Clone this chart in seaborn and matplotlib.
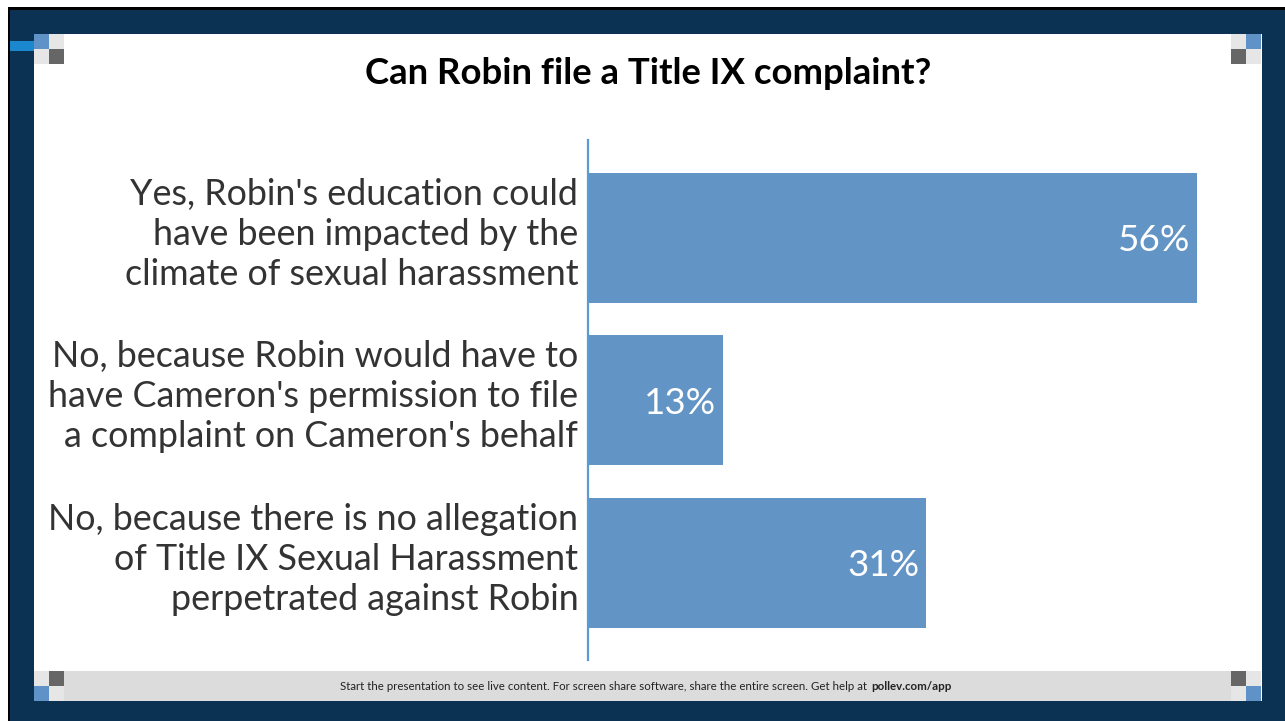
import matplotlib
matplotlib.use('Agg')
import matplotlib.pyplot as plt
import matplotlib.transforms as mtrans
from matplotlib.patches import Rectangle
import seaborn as sns
import pandas as pd

# poll results (bar lengths: 9 / 2 / 5 of 16 votes)
title = 'Can Robin file a Title IX complaint?'
answers = [
    "Yes, Robin's education could\nhave been impacted by the\nclimate of sexual harassment",
    "No, because Robin would have to\nhave Cameron's permission to file\na complaint on Cameron's behalf",
    "No, because there is no allegation\nof Title IX Sexual Harassment\nperpetrated against Robin",
]
shares = [56.25, 12.5, 31.25]
share_labels = ['56%', '13%', '31%']
footer_text = 'Start the presentation to see live content. For screen share software, share the entire screen. Get help at'
footer_link = 'pollev.com/app'

W, H = 1285, 721
NAVY = '#0b3252'
BAR = '#6294c5'
AXIS = '#5b9bd5'
LIGHT = '#e6e6e6'
DARK = '#666666'
SQ_BLUE = '#5f93c7'


def px_rect(fig, x0, y0, x1, y1, color, z=1):
    fig.patches.append(Rectangle((x0 / W, 1 - y1 / H), (x1 - x0) / W, (y1 - y0) / H,
                                 transform=fig.transFigure, facecolor=color,
                                 edgecolor='none', zorder=z))


def main():
    sns.set_theme(style='white')
    plt.rcParams['font.family'] = ['Lato', 'DejaVu Sans']

    fig = plt.figure(figsize=(W / 100, H / 100), dpi=100, facecolor='white')

    # slide frame
    px_rect(fig, 8, 7, W, H, 'black')
    px_rect(fig, 10, 10, W, H, NAVY)
    px_rect(fig, 10, 41, 34, 51, '#1a87cf')
    px_rect(fig, 34, 34, 1262, 701, 'white')
    px_rect(fig, 64, 671, 1231, 701, '#dcdcdc')
    # corner squares
    for (x, y, c) in [(34, 34, SQ_BLUE), (49, 34, LIGHT), (34, 49, LIGHT), (49, 49, DARK),
                      (1231, 34, LIGHT), (1246, 34, SQ_BLUE), (1231, 49, DARK), (1246, 49, LIGHT),
                      (34, 671, LIGHT), (49, 671, DARK), (34, 686, SQ_BLUE), (49, 686, LIGHT),
                      (1231, 671, DARK), (1246, 671, LIGHT), (1231, 686, LIGHT), (1246, 686, SQ_BLUE)]:
        px_rect(fig, x, y, x + 15, y + 15, c, z=2)

    df = pd.DataFrame({'answer': answers, 'share': shares})

    ax = fig.add_axes([588 / W, 1 - 660 / H, (1250 - 588) / W, (660 - 140) / H])
    ax.set_zorder(5)
    ax.patch.set_alpha(0)
    sns.barplot(data=df, x='share', y='answer', color=BAR, saturation=1, width=0.8,
                orient='h', linewidth=0, ax=ax)
    ax.set_xlim(0, 662 / 10.83)
    ax.set_ylim(2.6, -0.603)
    ax.set_xticks([])
    ax.set_xlabel('')
    ax.set_ylabel('')
    for side in ['top', 'right', 'bottom']:
        ax.spines[side].set_visible(False)
    ax.spines['left'].set_color(AXIS)
    ax.spines['left'].set_linewidth(1.6)
    ax.tick_params(axis='y', length=0, pad=7, labelsize=25.8, labelcolor='#333333')
    # answer text sits a little above the bar centre on the slide
    lift = mtrans.ScaledTranslation(0, 10 / 100, fig.dpi_scale_trans)
    for lbl in ax.get_yticklabels():
        lbl.set_multialignment('right')
        lbl.set_linespacing(1.26)
        lbl.set_transform(lbl.get_transform() + lift)

    for i, (v, lab) in enumerate(zip(shares, share_labels)):
        ax.annotate(lab, xy=(v, i), xytext=(-7, -3), textcoords='offset pixels',
                    ha='right', va='center', color='white', fontsize=26.5)

    fig.text(648 / W, 1 - 73 / H, title, ha='center', va='center',
             fontsize=26.3, fontweight='bold', color='black')
    fig.text(867 / W, 1 - 687 / H, footer_text, ha='right', va='center',
             fontsize=8.3, color='#222222', zorder=3)
    fig.text(871 / W, 1 - 687 / H, footer_link, ha='left', va='center',
             fontsize=8.3, fontweight='bold', color='#222222', zorder=3)

    fig.savefig('out.png', dpi=100)


if __name__ == '__main__':
    main()
